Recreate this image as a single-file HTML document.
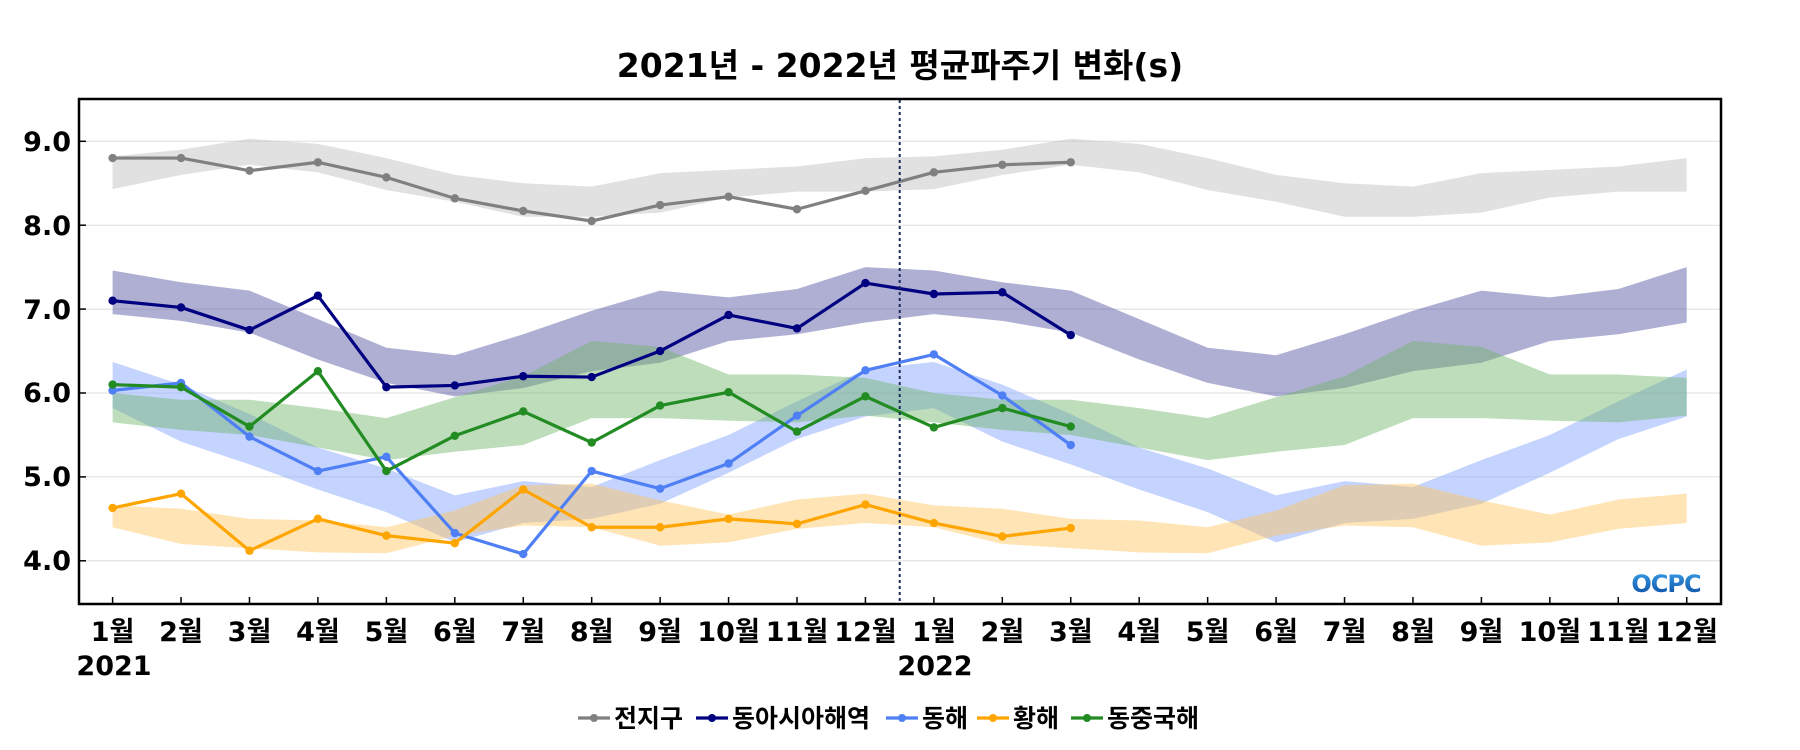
<!DOCTYPE html>
<html><head><meta charset="utf-8">
<style>
html,body{margin:0;padding:0;background:#fff;}
svg{display:block;}
text{font-family:"DejaVu Sans","Noto Sans CJK KR",sans-serif;font-weight:bold;fill:#000;}
</style></head>
<body>
<svg id="s" width="1800" height="750" viewBox="0 0 1800 750" xmlns="http://www.w3.org/2000/svg">
<defs>
<linearGradient id="lg" x1="0" y1="0" x2="0" y2="1">
<stop offset="0" stop-color="#3aa0e8"/><stop offset="1" stop-color="#0a4aa0"/>
</linearGradient>
</defs>
<rect x="0" y="0" width="1800" height="750" fill="#fff"/>
<text x="900" y="77" font-size="33" text-anchor="middle">2021년 - 2022년 평균파주기 변화(s)</text>
<g id="grid"></g>
<g id="bands"></g>
<g id="lines"></g>
<line x1="899.7" y1="100" x2="899.7" y2="604" stroke="#1a2a5a" stroke-width="2" stroke-dasharray="3,3"/>
<rect x="79" y="99" width="1642" height="505" fill="none" stroke="#000" stroke-width="2.5"/>
<text x="1666" y="592" font-size="24" fill="url(#lg)" style="fill:url(#lg)" text-anchor="middle" letter-spacing="-1">OCPC</text>
<g font-size="27" text-anchor="end">
<text x="71" y="151">9.0</text>
<text x="71" y="235">8.0</text>
<text x="71" y="319">7.0</text>
<text x="71" y="402">6.0</text>
<text x="71" y="486">5.0</text>
<text x="71" y="570">4.0</text>
</g>
<g id="xl" font-size="27" text-anchor="middle">
<text x="112.6" y="641">1월</text><text x="181" y="641">2월</text><text x="249.5" y="641">3월</text><text x="317.9" y="641">4월</text><text x="386.4" y="641">5월</text><text x="454.8" y="641">6월</text><text x="523.2" y="641">7월</text><text x="591.7" y="641">8월</text><text x="660.1" y="641">9월</text><text x="728.6" y="641">10월</text><text x="797" y="641">11월</text><text x="865.4" y="641">12월</text>
<text x="933.9" y="641">1월</text><text x="1002.3" y="641">2월</text><text x="1070.8" y="641">3월</text><text x="1139.2" y="641">4월</text><text x="1207.6" y="641">5월</text><text x="1276.1" y="641">6월</text><text x="1344.5" y="641">7월</text><text x="1413" y="641">8월</text><text x="1481.4" y="641">9월</text><text x="1549.8" y="641">10월</text><text x="1618.3" y="641">11월</text><text x="1686.7" y="641">12월</text>
<text x="114" y="675">2021</text><text x="935" y="675">2022</text>
</g>
<g id="leg" font-size="25"></g>
</svg>
<script>
var NS="http://www.w3.org/2000/svg";
function X(i){return 112.6+i*68.44;}
function Y(v){return 141.3+(9-v)*83.9;}
function el(t,a,p){var e=document.createElementNS(NS,t);for(var k in a)e.setAttribute(k,a[k]);document.getElementById(p).appendChild(e);return e;}
[9,8,7,6,5,4].forEach(function(v){el('line',{x1:80,x2:1720,y1:Y(v),y2:Y(v),stroke:'#dddddd','stroke-width':1},'grid');el('line',{x1:80,x2:86,y1:Y(v),y2:Y(v),stroke:'#000','stroke-width':1.5},'grid');});
for(var i=0;i<24;i++)el('line',{x1:X(i),x2:X(i),y1:597,y2:604,stroke:'#000','stroke-width':1.5},'grid');
var S=[
{c:'#808080',f:'rgba(195,195,195,0.5)',
u:[8.82,8.9,9.03,8.97,8.8,8.6,8.5,8.46,8.62,8.66,8.7,8.8],
l:[8.43,8.6,8.72,8.63,8.42,8.28,8.1,8.1,8.15,8.33,8.4,8.4],
d:[8.8,8.8,8.65,8.75,8.57,8.32,8.17,8.05,8.24,8.34,8.19,8.41,8.63,8.72,8.75]},
{c:'#000080',f:'rgba(95,95,170,0.5)',
u:[7.46,7.32,7.22,6.88,6.54,6.45,6.7,6.98,7.22,7.14,7.24,7.5],
l:[6.94,6.86,6.72,6.4,6.12,5.96,6.06,6.26,6.36,6.62,6.7,6.84],
d:[7.1,7.02,6.75,7.16,6.07,6.09,6.2,6.19,6.5,6.93,6.77,7.31,7.18,7.2,6.69]},
{c:'#4f7ff5',f:'rgba(140,170,255,0.5)',
u:[6.37,6.1,5.75,5.35,5.1,4.78,4.95,4.88,5.2,5.5,5.9,6.28],
l:[5.82,5.42,5.15,4.85,4.58,4.22,4.45,4.5,4.68,5.05,5.45,5.72],
d:[6.03,6.12,5.48,5.07,5.24,4.33,4.08,5.07,4.86,5.16,5.73,6.27,6.46,5.97,5.38]},
{c:'#ffa500',f:'rgba(255,195,90,0.45)',
u:[4.66,4.62,4.5,4.48,4.4,4.6,4.9,4.92,4.72,4.55,4.73,4.8],
l:[4.4,4.2,4.15,4.1,4.09,4.3,4.42,4.4,4.18,4.22,4.38,4.45],
d:[4.63,4.8,4.12,4.5,4.3,4.21,4.85,4.4,4.4,4.5,4.44,4.67,4.45,4.29,4.39]},
{c:'#228b22',f:'rgba(110,180,105,0.45)',
u:[6.0,5.92,5.92,5.82,5.7,5.95,6.2,6.62,6.55,6.22,6.22,6.18],
l:[5.65,5.56,5.5,5.35,5.2,5.3,5.38,5.7,5.7,5.67,5.65,5.73],
d:[6.1,6.07,5.6,6.26,5.07,5.49,5.78,5.41,5.85,6.01,5.54,5.96,5.59,5.82,5.6]}];
S.forEach(function(s){
 var p='';for(var i=0;i<24;i++)p+=(i?'L':'M')+X(i)+','+Y(s.u[i%12]);
 for(var i=23;i>=0;i--)p+='L'+X(i)+','+Y(s.l[i%12]);
 el('path',{d:p+'Z',fill:s.f},'bands');
});
S.forEach(function(s){
 var p='';s.d.forEach(function(v,i){p+=(i?'L':'M')+X(i)+','+Y(v);});
 el('path',{d:p,fill:'none',stroke:s.c,'stroke-width':3.2,'stroke-linejoin':'round'},'lines');
 s.d.forEach(function(v,i){el('circle',{cx:X(i),cy:Y(v),r:4.2,fill:s.c},'lines');});
});
var L=[['전지구',578],['동아시아해역',696],['동해',886],['황해',977],['동중국해',1071]];
L.forEach(function(l,i){
 var x=l[1];el('line',{x1:x,x2:x+32,y1:718,y2:718,stroke:S[i].c,'stroke-width':3.2},'leg');
 el('circle',{cx:x+16,cy:718,r:4,fill:S[i].c},'leg');
 var t=el('text',{x:x+36,y:727},'leg');t.textContent=l[0];
});
</script>
</body></html>
